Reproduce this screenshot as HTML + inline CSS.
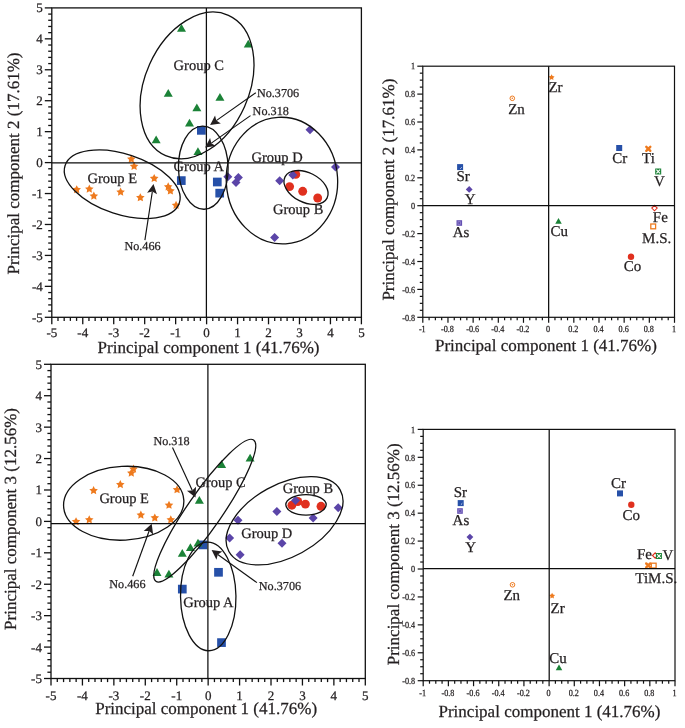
<!DOCTYPE html>
<html><head><meta charset="utf-8"><style>
html,body{margin:0;padding:0;background:#fff;}
svg{display:block;will-change:transform;}
text{font-family:'Liberation Serif', serif;fill:#231f20;text-rendering:geometricPrecision;stroke:#231f20;stroke-width:0.25;}
</style></head><body>
<svg width="685" height="728" viewBox="0 0 685 728">
<rect width="685" height="728" fill="#fff"/>
<rect x="197.00" y="126.00" width="8.7" height="8.7" fill="#2650a8"/>
<rect x="176.95" y="176.25" width="8.7" height="8.7" fill="#2650a8"/>
<rect x="212.95" y="177.65" width="8.7" height="8.7" fill="#2650a8"/>
<rect x="215.35" y="188.80" width="8.7" height="8.7" fill="#2650a8"/>
<polygon points="181.50,24.00 186.00,31.80 177.00,31.80" fill="#1b8237"/>
<polygon points="248.25,39.75 252.75,47.55 243.75,47.55" fill="#1b8237"/>
<polygon points="168.25,89.00 172.75,96.80 163.75,96.80" fill="#1b8237"/>
<polygon points="219.95,93.00 224.45,100.80 215.45,100.80" fill="#1b8237"/>
<polygon points="196.85,103.40 201.35,111.20 192.35,111.20" fill="#1b8237"/>
<polygon points="189.50,118.70 194.00,126.50 185.00,126.50" fill="#1b8237"/>
<polygon points="156.15,135.40 160.65,143.20 151.65,143.20" fill="#1b8237"/>
<polygon points="197.95,147.30 202.45,155.10 193.45,155.10" fill="#1b8237"/>
<polygon points="131.30,154.63 132.62,157.31 135.58,157.74 133.44,159.83 133.95,162.77 131.30,161.38 128.65,162.77 129.16,159.83 127.02,157.74 129.98,157.31" fill="#ee7a1e"/>
<polygon points="134.10,161.83 135.42,164.51 138.38,164.94 136.24,167.03 136.75,169.97 134.10,168.58 131.45,169.97 131.96,167.03 129.82,164.94 132.78,164.51" fill="#ee7a1e"/>
<polygon points="154.20,173.93 155.52,176.61 158.48,177.04 156.34,179.13 156.85,182.07 154.20,180.68 151.55,182.07 152.06,179.13 149.92,177.04 152.88,176.61" fill="#ee7a1e"/>
<polygon points="76.70,185.13 78.02,187.81 80.98,188.24 78.84,190.33 79.35,193.27 76.70,191.88 74.05,193.27 74.56,190.33 72.42,188.24 75.38,187.81" fill="#ee7a1e"/>
<polygon points="89.30,184.53 90.62,187.21 93.58,187.64 91.44,189.73 91.95,192.67 89.30,191.28 86.65,192.67 87.16,189.73 85.02,187.64 87.98,187.21" fill="#ee7a1e"/>
<polygon points="93.85,191.53 95.17,194.21 98.13,194.64 95.99,196.73 96.50,199.67 93.85,198.28 91.20,199.67 91.71,196.73 89.57,194.64 92.53,194.21" fill="#ee7a1e"/>
<polygon points="120.60,187.53 121.92,190.21 124.88,190.64 122.74,192.73 123.25,195.67 120.60,194.28 117.95,195.67 118.46,192.73 116.32,190.64 119.28,190.21" fill="#ee7a1e"/>
<polygon points="140.35,193.13 141.67,195.81 144.63,196.24 142.49,198.33 143.00,201.27 140.35,199.88 137.70,201.27 138.21,198.33 136.07,196.24 139.03,195.81" fill="#ee7a1e"/>
<polygon points="168.20,182.33 169.52,185.01 172.48,185.44 170.34,187.53 170.85,190.47 168.20,189.08 165.55,190.47 166.06,187.53 163.92,185.44 166.88,185.01" fill="#ee7a1e"/>
<polygon points="170.40,186.43 171.72,189.11 174.68,189.54 172.54,191.63 173.05,194.57 170.40,193.18 167.75,194.57 168.26,191.63 166.12,189.54 169.08,189.11" fill="#ee7a1e"/>
<polygon points="176.05,200.83 177.37,203.51 180.33,203.94 178.19,206.03 178.70,208.97 176.05,207.58 173.40,208.97 173.91,206.03 171.77,203.94 174.73,203.51" fill="#ee7a1e"/>
<circle cx="295.80" cy="174.40" r="4.45" fill="#e0301e"/>
<circle cx="289.60" cy="186.60" r="4.45" fill="#e0301e"/>
<circle cx="302.70" cy="191.30" r="4.45" fill="#e0301e"/>
<circle cx="317.70" cy="198.00" r="4.45" fill="#e0301e"/>
<polygon points="227.80,172.20 232.30,176.70 227.80,181.20 223.30,176.70" fill="#5b45a8"/>
<polygon points="238.40,173.10 242.90,177.60 238.40,182.10 233.90,177.60" fill="#5b45a8"/>
<polygon points="236.00,177.90 240.50,182.40 236.00,186.90 231.50,182.40" fill="#5b45a8"/>
<polygon points="279.70,176.20 284.20,180.70 279.70,185.20 275.20,180.70" fill="#5b45a8"/>
<polygon points="292.80,170.40 297.30,174.90 292.80,179.40 288.30,174.90" fill="#5b45a8"/>
<polygon points="310.00,125.30 314.50,129.80 310.00,134.30 305.50,129.80" fill="#5b45a8"/>
<polygon points="335.50,162.50 340.00,167.00 335.50,171.50 331.00,167.00" fill="#5b45a8"/>
<polygon points="274.60,233.00 279.10,237.50 274.60,242.00 270.10,237.50" fill="#5b45a8"/>
<rect x="198.55" y="540.55" width="8.7" height="8.7" fill="#2650a8"/>
<rect x="214.15" y="567.95" width="8.7" height="8.7" fill="#2650a8"/>
<rect x="177.95" y="584.75" width="8.7" height="8.7" fill="#2650a8"/>
<rect x="217.15" y="638.25" width="8.7" height="8.7" fill="#2650a8"/>
<polygon points="250.10,453.70 254.60,461.50 245.60,461.50" fill="#1b8237"/>
<polygon points="221.60,460.10 226.10,467.90 217.10,467.90" fill="#1b8237"/>
<polygon points="199.35,496.00 203.85,503.80 194.85,503.80" fill="#1b8237"/>
<polygon points="198.00,538.70 202.50,546.50 193.50,546.50" fill="#1b8237"/>
<polygon points="190.40,543.30 194.90,551.10 185.90,551.10" fill="#1b8237"/>
<polygon points="182.30,549.00 186.80,556.80 177.80,556.80" fill="#1b8237"/>
<polygon points="157.00,568.10 161.50,575.90 152.50,575.90" fill="#1b8237"/>
<polygon points="168.90,569.70 173.40,577.50 164.40,577.50" fill="#1b8237"/>
<polygon points="133.50,464.53 134.82,467.21 137.78,467.64 135.64,469.73 136.15,472.67 133.50,471.28 130.85,472.67 131.36,469.73 129.22,467.64 132.18,467.21" fill="#ee7a1e"/>
<polygon points="131.30,468.53 132.62,471.21 135.58,471.64 133.44,473.73 133.95,476.67 131.30,475.28 128.65,476.67 129.16,473.73 127.02,471.64 129.98,471.21" fill="#ee7a1e"/>
<polygon points="120.30,480.03 121.62,482.71 124.58,483.14 122.44,485.23 122.95,488.17 120.30,486.78 117.65,488.17 118.16,485.23 116.02,483.14 118.98,482.71" fill="#ee7a1e"/>
<polygon points="93.60,486.08 94.92,488.76 97.88,489.19 95.74,491.28 96.25,494.22 93.60,492.83 90.95,494.22 91.46,491.28 89.32,489.19 92.28,488.76" fill="#ee7a1e"/>
<polygon points="177.05,485.23 178.37,487.91 181.33,488.34 179.19,490.43 179.70,493.37 177.05,491.98 174.40,493.37 174.91,490.43 172.77,488.34 175.73,487.91" fill="#ee7a1e"/>
<polygon points="169.00,500.73 170.32,503.41 173.28,503.84 171.14,505.93 171.65,508.87 169.00,507.48 166.35,508.87 166.86,505.93 164.72,503.84 167.68,503.41" fill="#ee7a1e"/>
<polygon points="140.85,510.53 142.17,513.21 145.13,513.64 142.99,515.73 143.50,518.67 140.85,517.28 138.20,518.67 138.71,515.73 136.57,513.64 139.53,513.21" fill="#ee7a1e"/>
<polygon points="154.80,513.38 156.12,516.06 159.08,516.49 156.94,518.58 157.45,521.52 154.80,520.13 152.15,521.52 152.66,518.58 150.52,516.49 153.48,516.06" fill="#ee7a1e"/>
<polygon points="89.25,515.33 90.57,518.01 93.53,518.44 91.39,520.53 91.90,523.47 89.25,522.08 86.60,523.47 87.11,520.53 84.97,518.44 87.93,518.01" fill="#ee7a1e"/>
<polygon points="76.05,517.13 77.37,519.81 80.33,520.24 78.19,522.33 78.70,525.27 76.05,523.88 73.40,525.27 73.91,522.33 71.77,520.24 74.73,519.81" fill="#ee7a1e"/>
<polygon points="170.80,515.33 172.12,518.01 175.08,518.44 172.94,520.53 173.45,523.47 170.80,522.08 168.15,523.47 168.66,520.53 166.52,518.44 169.48,518.01" fill="#ee7a1e"/>
<circle cx="291.90" cy="505.20" r="4.45" fill="#e0301e"/>
<circle cx="297.80" cy="501.50" r="4.45" fill="#e0301e"/>
<circle cx="305.40" cy="504.10" r="4.45" fill="#e0301e"/>
<circle cx="321.00" cy="506.30" r="4.45" fill="#e0301e"/>
<polygon points="295.50,496.00 300.00,500.50 295.50,505.00 291.00,500.50" fill="#5b45a8"/>
<polygon points="276.90,507.00 281.40,511.50 276.90,516.00 272.40,511.50" fill="#5b45a8"/>
<polygon points="338.20,503.20 342.70,507.70 338.20,512.20 333.70,507.70" fill="#5b45a8"/>
<polygon points="313.10,513.50 317.60,518.00 313.10,522.50 308.60,518.00" fill="#5b45a8"/>
<polygon points="238.00,515.70 242.50,520.20 238.00,524.70 233.50,520.20" fill="#5b45a8"/>
<polygon points="229.60,533.40 234.10,537.90 229.60,542.40 225.10,537.90" fill="#5b45a8"/>
<polygon points="282.00,538.70 286.50,543.20 282.00,547.70 277.50,543.20" fill="#5b45a8"/>
<polygon points="240.10,550.20 244.60,554.70 240.10,559.20 235.60,554.70" fill="#5b45a8"/>
<polygon points="551.60,74.30 552.55,76.10 554.55,76.44 553.13,77.90 553.42,79.91 551.60,79.01 549.78,79.91 550.07,77.90 548.65,76.44 550.65,76.10" fill="#ee7a1e"/>
<circle cx="512.3" cy="98.3" r="2.3" fill="none" stroke="#ee7a1e" stroke-width="1"/>
<circle cx="512.3" cy="98.3" r="0.8" fill="#ee7a1e"/>
<rect x="457.10" y="164.10" width="6.0" height="6.0" fill="#2650a8"/>
<line x1="460.30" y1="168.70" x2="461.70" y2="167.30" stroke="#fff" stroke-width="0.9" opacity="0.85"/>
<polygon points="469.20,186.00 472.60,189.40 469.20,192.80 465.80,189.40" fill="#5b45a8"/>
<rect x="456.50" y="220.20" width="5.6" height="5.6" fill="#6450b2"/>
<rect x="458.00" y="221.70" width="2.6" height="2.6" fill="none" stroke="#9a8ad0" stroke-width="0.7"/>
<polygon points="558.50,217.90 561.75,223.70 555.25,223.70" fill="#1b8237"/>
<rect x="616.20" y="145.00" width="6.0" height="6.0" fill="#2650a8"/>
<g stroke="#ee7a1e" stroke-width="2.4" stroke-linecap="round"><line x1="646.30" y1="146.80" x2="650.30" y2="150.80"/><line x1="646.30" y1="150.80" x2="650.30" y2="146.80"/></g>
<rect x="655.20" y="168.50" width="6.0" height="6.0" fill="#1b8237"/>
<g stroke="#fff" stroke-width="1.1"><line x1="656.40" y1="169.70" x2="660.00" y2="173.30"/><line x1="656.40" y1="173.30" x2="660.00" y2="169.70"/></g>
<polygon points="654.50,205.40 657.20,208.10 654.50,210.80 651.80,208.10" fill="#fff" stroke="#e0301e" stroke-width="1.1"/>
<rect x="650.80" y="224.00" width="4.8" height="4.8" fill="#fff" stroke="#ee7a1e" stroke-width="1.3"/>
<circle cx="631.00" cy="256.70" r="3.2" fill="#e0301e"/>
<rect x="457.70" y="500.10" width="6.0" height="6.0" fill="#2650a8"/>
<line x1="460.90" y1="504.70" x2="462.30" y2="503.30" stroke="#fff" stroke-width="0.9" opacity="0.85"/>
<rect x="457.20" y="508.20" width="5.6" height="5.6" fill="#6450b2"/>
<rect x="458.70" y="509.70" width="2.6" height="2.6" fill="none" stroke="#9a8ad0" stroke-width="0.7"/>
<polygon points="469.90,533.70 473.30,537.10 469.90,540.50 466.50,537.10" fill="#5b45a8"/>
<circle cx="512.5" cy="584.8" r="2.3" fill="none" stroke="#ee7a1e" stroke-width="1"/>
<circle cx="512.5" cy="584.8" r="0.8" fill="#ee7a1e"/>
<polygon points="552.10,592.80 553.05,594.60 555.05,594.94 553.63,596.40 553.92,598.41 552.10,597.51 550.28,598.41 550.57,596.40 549.15,594.94 551.15,594.60" fill="#ee7a1e"/>
<polygon points="559.00,664.50 562.25,670.30 555.75,670.30" fill="#1b8237"/>
<rect x="617.00" y="490.40" width="6.0" height="6.0" fill="#2650a8"/>
<circle cx="631.30" cy="504.70" r="3.2" fill="#e0301e"/>
<polygon points="655.20,552.80 657.90,555.50 655.20,558.20 652.50,555.50" fill="#fff" stroke="#e0301e" stroke-width="1.1"/>
<rect x="655.90" y="553.00" width="6.0" height="6.0" fill="#1b8237"/>
<g stroke="#fff" stroke-width="1.1"><line x1="657.10" y1="554.20" x2="660.70" y2="557.80"/><line x1="657.10" y1="557.80" x2="660.70" y2="554.20"/></g>
<g stroke="#ee7a1e" stroke-width="2.4" stroke-linecap="round"><line x1="646.20" y1="563.40" x2="650.20" y2="567.40"/><line x1="646.20" y1="567.40" x2="650.20" y2="563.40"/></g>
<rect x="651.30" y="563.20" width="4.8" height="4.8" fill="#fff" stroke="#ee7a1e" stroke-width="1.3"/>
<rect x="51.80" y="7.90" width="309.60" height="309.40" fill="none" stroke="#111" stroke-width="1.3" stroke-linejoin="miter"/>
<line x1="44.80" y1="317.30" x2="51.80" y2="317.30" stroke="#111" stroke-width="1.3"/>
<text x="42.80" y="321.72" font-size="13" text-anchor="end" >-5</text>
<line x1="48.20" y1="311.11" x2="51.80" y2="311.11" stroke="#111" stroke-width="1.3"/>
<line x1="48.20" y1="304.92" x2="51.80" y2="304.92" stroke="#111" stroke-width="1.3"/>
<line x1="48.20" y1="298.74" x2="51.80" y2="298.74" stroke="#111" stroke-width="1.3"/>
<line x1="48.20" y1="292.55" x2="51.80" y2="292.55" stroke="#111" stroke-width="1.3"/>
<line x1="44.80" y1="286.36" x2="51.80" y2="286.36" stroke="#111" stroke-width="1.3"/>
<text x="42.80" y="290.78" font-size="13" text-anchor="end" >-4</text>
<line x1="48.20" y1="280.17" x2="51.80" y2="280.17" stroke="#111" stroke-width="1.3"/>
<line x1="48.20" y1="273.98" x2="51.80" y2="273.98" stroke="#111" stroke-width="1.3"/>
<line x1="48.20" y1="267.80" x2="51.80" y2="267.80" stroke="#111" stroke-width="1.3"/>
<line x1="48.20" y1="261.61" x2="51.80" y2="261.61" stroke="#111" stroke-width="1.3"/>
<line x1="44.80" y1="255.42" x2="51.80" y2="255.42" stroke="#111" stroke-width="1.3"/>
<text x="42.80" y="259.84" font-size="13" text-anchor="end" >-3</text>
<line x1="48.20" y1="249.23" x2="51.80" y2="249.23" stroke="#111" stroke-width="1.3"/>
<line x1="48.20" y1="243.04" x2="51.80" y2="243.04" stroke="#111" stroke-width="1.3"/>
<line x1="48.20" y1="236.86" x2="51.80" y2="236.86" stroke="#111" stroke-width="1.3"/>
<line x1="48.20" y1="230.67" x2="51.80" y2="230.67" stroke="#111" stroke-width="1.3"/>
<line x1="44.80" y1="224.48" x2="51.80" y2="224.48" stroke="#111" stroke-width="1.3"/>
<text x="42.80" y="228.90" font-size="13" text-anchor="end" >-2</text>
<line x1="48.20" y1="218.29" x2="51.80" y2="218.29" stroke="#111" stroke-width="1.3"/>
<line x1="48.20" y1="212.10" x2="51.80" y2="212.10" stroke="#111" stroke-width="1.3"/>
<line x1="48.20" y1="205.92" x2="51.80" y2="205.92" stroke="#111" stroke-width="1.3"/>
<line x1="48.20" y1="199.73" x2="51.80" y2="199.73" stroke="#111" stroke-width="1.3"/>
<line x1="44.80" y1="193.54" x2="51.80" y2="193.54" stroke="#111" stroke-width="1.3"/>
<text x="42.80" y="197.96" font-size="13" text-anchor="end" >-1</text>
<line x1="48.20" y1="187.35" x2="51.80" y2="187.35" stroke="#111" stroke-width="1.3"/>
<line x1="48.20" y1="181.16" x2="51.80" y2="181.16" stroke="#111" stroke-width="1.3"/>
<line x1="48.20" y1="174.98" x2="51.80" y2="174.98" stroke="#111" stroke-width="1.3"/>
<line x1="48.20" y1="168.79" x2="51.80" y2="168.79" stroke="#111" stroke-width="1.3"/>
<line x1="44.80" y1="162.60" x2="51.80" y2="162.60" stroke="#111" stroke-width="1.3"/>
<text x="42.80" y="167.02" font-size="13" text-anchor="end" >0</text>
<line x1="48.20" y1="156.41" x2="51.80" y2="156.41" stroke="#111" stroke-width="1.3"/>
<line x1="48.20" y1="150.22" x2="51.80" y2="150.22" stroke="#111" stroke-width="1.3"/>
<line x1="48.20" y1="144.04" x2="51.80" y2="144.04" stroke="#111" stroke-width="1.3"/>
<line x1="48.20" y1="137.85" x2="51.80" y2="137.85" stroke="#111" stroke-width="1.3"/>
<line x1="44.80" y1="131.66" x2="51.80" y2="131.66" stroke="#111" stroke-width="1.3"/>
<text x="42.80" y="136.08" font-size="13" text-anchor="end" >1</text>
<line x1="48.20" y1="125.47" x2="51.80" y2="125.47" stroke="#111" stroke-width="1.3"/>
<line x1="48.20" y1="119.28" x2="51.80" y2="119.28" stroke="#111" stroke-width="1.3"/>
<line x1="48.20" y1="113.10" x2="51.80" y2="113.10" stroke="#111" stroke-width="1.3"/>
<line x1="48.20" y1="106.91" x2="51.80" y2="106.91" stroke="#111" stroke-width="1.3"/>
<line x1="44.80" y1="100.72" x2="51.80" y2="100.72" stroke="#111" stroke-width="1.3"/>
<text x="42.80" y="105.14" font-size="13" text-anchor="end" >2</text>
<line x1="48.20" y1="94.53" x2="51.80" y2="94.53" stroke="#111" stroke-width="1.3"/>
<line x1="48.20" y1="88.34" x2="51.80" y2="88.34" stroke="#111" stroke-width="1.3"/>
<line x1="48.20" y1="82.16" x2="51.80" y2="82.16" stroke="#111" stroke-width="1.3"/>
<line x1="48.20" y1="75.97" x2="51.80" y2="75.97" stroke="#111" stroke-width="1.3"/>
<line x1="44.80" y1="69.78" x2="51.80" y2="69.78" stroke="#111" stroke-width="1.3"/>
<text x="42.80" y="74.20" font-size="13" text-anchor="end" >3</text>
<line x1="48.20" y1="63.59" x2="51.80" y2="63.59" stroke="#111" stroke-width="1.3"/>
<line x1="48.20" y1="57.40" x2="51.80" y2="57.40" stroke="#111" stroke-width="1.3"/>
<line x1="48.20" y1="51.22" x2="51.80" y2="51.22" stroke="#111" stroke-width="1.3"/>
<line x1="48.20" y1="45.03" x2="51.80" y2="45.03" stroke="#111" stroke-width="1.3"/>
<line x1="44.80" y1="38.84" x2="51.80" y2="38.84" stroke="#111" stroke-width="1.3"/>
<text x="42.80" y="43.26" font-size="13" text-anchor="end" >4</text>
<line x1="48.20" y1="32.65" x2="51.80" y2="32.65" stroke="#111" stroke-width="1.3"/>
<line x1="48.20" y1="26.46" x2="51.80" y2="26.46" stroke="#111" stroke-width="1.3"/>
<line x1="48.20" y1="20.28" x2="51.80" y2="20.28" stroke="#111" stroke-width="1.3"/>
<line x1="48.20" y1="14.09" x2="51.80" y2="14.09" stroke="#111" stroke-width="1.3"/>
<line x1="44.80" y1="7.90" x2="51.80" y2="7.90" stroke="#111" stroke-width="1.3"/>
<text x="42.80" y="12.32" font-size="13" text-anchor="end" >5</text>
<line x1="51.80" y1="317.30" x2="51.80" y2="324.30" stroke="#111" stroke-width="1.3"/>
<text x="51.80" y="336.90" font-size="13" text-anchor="middle" >-5</text>
<line x1="57.99" y1="317.30" x2="57.99" y2="320.90" stroke="#111" stroke-width="1.3"/>
<line x1="64.18" y1="317.30" x2="64.18" y2="320.90" stroke="#111" stroke-width="1.3"/>
<line x1="70.38" y1="317.30" x2="70.38" y2="320.90" stroke="#111" stroke-width="1.3"/>
<line x1="76.57" y1="317.30" x2="76.57" y2="320.90" stroke="#111" stroke-width="1.3"/>
<line x1="82.76" y1="317.30" x2="82.76" y2="324.30" stroke="#111" stroke-width="1.3"/>
<text x="82.76" y="336.90" font-size="13" text-anchor="middle" >-4</text>
<line x1="88.95" y1="317.30" x2="88.95" y2="320.90" stroke="#111" stroke-width="1.3"/>
<line x1="95.14" y1="317.30" x2="95.14" y2="320.90" stroke="#111" stroke-width="1.3"/>
<line x1="101.34" y1="317.30" x2="101.34" y2="320.90" stroke="#111" stroke-width="1.3"/>
<line x1="107.53" y1="317.30" x2="107.53" y2="320.90" stroke="#111" stroke-width="1.3"/>
<line x1="113.72" y1="317.30" x2="113.72" y2="324.30" stroke="#111" stroke-width="1.3"/>
<text x="113.72" y="336.90" font-size="13" text-anchor="middle" >-3</text>
<line x1="119.91" y1="317.30" x2="119.91" y2="320.90" stroke="#111" stroke-width="1.3"/>
<line x1="126.10" y1="317.30" x2="126.10" y2="320.90" stroke="#111" stroke-width="1.3"/>
<line x1="132.30" y1="317.30" x2="132.30" y2="320.90" stroke="#111" stroke-width="1.3"/>
<line x1="138.49" y1="317.30" x2="138.49" y2="320.90" stroke="#111" stroke-width="1.3"/>
<line x1="144.68" y1="317.30" x2="144.68" y2="324.30" stroke="#111" stroke-width="1.3"/>
<text x="144.68" y="336.90" font-size="13" text-anchor="middle" >-2</text>
<line x1="150.87" y1="317.30" x2="150.87" y2="320.90" stroke="#111" stroke-width="1.3"/>
<line x1="157.06" y1="317.30" x2="157.06" y2="320.90" stroke="#111" stroke-width="1.3"/>
<line x1="163.26" y1="317.30" x2="163.26" y2="320.90" stroke="#111" stroke-width="1.3"/>
<line x1="169.45" y1="317.30" x2="169.45" y2="320.90" stroke="#111" stroke-width="1.3"/>
<line x1="175.64" y1="317.30" x2="175.64" y2="324.30" stroke="#111" stroke-width="1.3"/>
<text x="175.64" y="336.90" font-size="13" text-anchor="middle" >-1</text>
<line x1="181.83" y1="317.30" x2="181.83" y2="320.90" stroke="#111" stroke-width="1.3"/>
<line x1="188.02" y1="317.30" x2="188.02" y2="320.90" stroke="#111" stroke-width="1.3"/>
<line x1="194.22" y1="317.30" x2="194.22" y2="320.90" stroke="#111" stroke-width="1.3"/>
<line x1="200.41" y1="317.30" x2="200.41" y2="320.90" stroke="#111" stroke-width="1.3"/>
<line x1="206.60" y1="317.30" x2="206.60" y2="324.30" stroke="#111" stroke-width="1.3"/>
<text x="206.60" y="336.90" font-size="13" text-anchor="middle" >0</text>
<line x1="212.79" y1="317.30" x2="212.79" y2="320.90" stroke="#111" stroke-width="1.3"/>
<line x1="218.98" y1="317.30" x2="218.98" y2="320.90" stroke="#111" stroke-width="1.3"/>
<line x1="225.18" y1="317.30" x2="225.18" y2="320.90" stroke="#111" stroke-width="1.3"/>
<line x1="231.37" y1="317.30" x2="231.37" y2="320.90" stroke="#111" stroke-width="1.3"/>
<line x1="237.56" y1="317.30" x2="237.56" y2="324.30" stroke="#111" stroke-width="1.3"/>
<text x="237.56" y="336.90" font-size="13" text-anchor="middle" >1</text>
<line x1="243.75" y1="317.30" x2="243.75" y2="320.90" stroke="#111" stroke-width="1.3"/>
<line x1="249.94" y1="317.30" x2="249.94" y2="320.90" stroke="#111" stroke-width="1.3"/>
<line x1="256.14" y1="317.30" x2="256.14" y2="320.90" stroke="#111" stroke-width="1.3"/>
<line x1="262.33" y1="317.30" x2="262.33" y2="320.90" stroke="#111" stroke-width="1.3"/>
<line x1="268.52" y1="317.30" x2="268.52" y2="324.30" stroke="#111" stroke-width="1.3"/>
<text x="268.52" y="336.90" font-size="13" text-anchor="middle" >2</text>
<line x1="274.71" y1="317.30" x2="274.71" y2="320.90" stroke="#111" stroke-width="1.3"/>
<line x1="280.90" y1="317.30" x2="280.90" y2="320.90" stroke="#111" stroke-width="1.3"/>
<line x1="287.10" y1="317.30" x2="287.10" y2="320.90" stroke="#111" stroke-width="1.3"/>
<line x1="293.29" y1="317.30" x2="293.29" y2="320.90" stroke="#111" stroke-width="1.3"/>
<line x1="299.48" y1="317.30" x2="299.48" y2="324.30" stroke="#111" stroke-width="1.3"/>
<text x="299.48" y="336.90" font-size="13" text-anchor="middle" >3</text>
<line x1="305.67" y1="317.30" x2="305.67" y2="320.90" stroke="#111" stroke-width="1.3"/>
<line x1="311.86" y1="317.30" x2="311.86" y2="320.90" stroke="#111" stroke-width="1.3"/>
<line x1="318.06" y1="317.30" x2="318.06" y2="320.90" stroke="#111" stroke-width="1.3"/>
<line x1="324.25" y1="317.30" x2="324.25" y2="320.90" stroke="#111" stroke-width="1.3"/>
<line x1="330.44" y1="317.30" x2="330.44" y2="324.30" stroke="#111" stroke-width="1.3"/>
<text x="330.44" y="336.90" font-size="13" text-anchor="middle" >4</text>
<line x1="336.63" y1="317.30" x2="336.63" y2="320.90" stroke="#111" stroke-width="1.3"/>
<line x1="342.82" y1="317.30" x2="342.82" y2="320.90" stroke="#111" stroke-width="1.3"/>
<line x1="349.02" y1="317.30" x2="349.02" y2="320.90" stroke="#111" stroke-width="1.3"/>
<line x1="355.21" y1="317.30" x2="355.21" y2="320.90" stroke="#111" stroke-width="1.3"/>
<line x1="361.40" y1="317.30" x2="361.40" y2="324.30" stroke="#111" stroke-width="1.3"/>
<text x="361.40" y="336.90" font-size="13" text-anchor="middle" >5</text>
<line x1="51.80" y1="162.75" x2="361.40" y2="162.75" stroke="#0d0d0d" stroke-width="1.25"/>
<line x1="206.40" y1="7.90" x2="206.40" y2="317.30" stroke="#0d0d0d" stroke-width="1.25"/>
<rect x="422.80" y="66.20" width="251.70" height="251.10" fill="none" stroke="#111" stroke-width="1.2" stroke-linejoin="miter"/>
<line x1="417.30" y1="317.30" x2="422.80" y2="317.30" stroke="#111" stroke-width="1.2"/>
<text x="0" y="0" font-size="9.4" text-anchor="end" transform="translate(415.10,320.50) scale(0.87,1)">-0.8</text>
<line x1="419.80" y1="310.32" x2="422.80" y2="310.32" stroke="#111" stroke-width="1.2"/>
<line x1="419.80" y1="303.35" x2="422.80" y2="303.35" stroke="#111" stroke-width="1.2"/>
<line x1="419.80" y1="296.38" x2="422.80" y2="296.38" stroke="#111" stroke-width="1.2"/>
<line x1="417.30" y1="289.40" x2="422.80" y2="289.40" stroke="#111" stroke-width="1.2"/>
<text x="0" y="0" font-size="9.4" text-anchor="end" transform="translate(415.10,292.60) scale(0.87,1)">-0.6</text>
<line x1="419.80" y1="282.43" x2="422.80" y2="282.43" stroke="#111" stroke-width="1.2"/>
<line x1="419.80" y1="275.45" x2="422.80" y2="275.45" stroke="#111" stroke-width="1.2"/>
<line x1="419.80" y1="268.48" x2="422.80" y2="268.48" stroke="#111" stroke-width="1.2"/>
<line x1="417.30" y1="261.50" x2="422.80" y2="261.50" stroke="#111" stroke-width="1.2"/>
<text x="0" y="0" font-size="9.4" text-anchor="end" transform="translate(415.10,264.70) scale(0.87,1)">-0.4</text>
<line x1="419.80" y1="254.53" x2="422.80" y2="254.53" stroke="#111" stroke-width="1.2"/>
<line x1="419.80" y1="247.55" x2="422.80" y2="247.55" stroke="#111" stroke-width="1.2"/>
<line x1="419.80" y1="240.57" x2="422.80" y2="240.57" stroke="#111" stroke-width="1.2"/>
<line x1="417.30" y1="233.60" x2="422.80" y2="233.60" stroke="#111" stroke-width="1.2"/>
<text x="0" y="0" font-size="9.4" text-anchor="end" transform="translate(415.10,236.80) scale(0.87,1)">-0.2</text>
<line x1="419.80" y1="226.62" x2="422.80" y2="226.62" stroke="#111" stroke-width="1.2"/>
<line x1="419.80" y1="219.65" x2="422.80" y2="219.65" stroke="#111" stroke-width="1.2"/>
<line x1="419.80" y1="212.68" x2="422.80" y2="212.68" stroke="#111" stroke-width="1.2"/>
<line x1="417.30" y1="205.70" x2="422.80" y2="205.70" stroke="#111" stroke-width="1.2"/>
<text x="0" y="0" font-size="9.4" text-anchor="end" transform="translate(415.10,208.90) scale(0.87,1)">0</text>
<line x1="419.80" y1="198.72" x2="422.80" y2="198.72" stroke="#111" stroke-width="1.2"/>
<line x1="419.80" y1="191.75" x2="422.80" y2="191.75" stroke="#111" stroke-width="1.2"/>
<line x1="419.80" y1="184.78" x2="422.80" y2="184.78" stroke="#111" stroke-width="1.2"/>
<line x1="417.30" y1="177.80" x2="422.80" y2="177.80" stroke="#111" stroke-width="1.2"/>
<text x="0" y="0" font-size="9.4" text-anchor="end" transform="translate(415.10,181.00) scale(0.87,1)">0.2</text>
<line x1="419.80" y1="170.82" x2="422.80" y2="170.82" stroke="#111" stroke-width="1.2"/>
<line x1="419.80" y1="163.85" x2="422.80" y2="163.85" stroke="#111" stroke-width="1.2"/>
<line x1="419.80" y1="156.87" x2="422.80" y2="156.87" stroke="#111" stroke-width="1.2"/>
<line x1="417.30" y1="149.90" x2="422.80" y2="149.90" stroke="#111" stroke-width="1.2"/>
<text x="0" y="0" font-size="9.4" text-anchor="end" transform="translate(415.10,153.10) scale(0.87,1)">0.4</text>
<line x1="419.80" y1="142.93" x2="422.80" y2="142.93" stroke="#111" stroke-width="1.2"/>
<line x1="419.80" y1="135.95" x2="422.80" y2="135.95" stroke="#111" stroke-width="1.2"/>
<line x1="419.80" y1="128.97" x2="422.80" y2="128.97" stroke="#111" stroke-width="1.2"/>
<line x1="417.30" y1="122.00" x2="422.80" y2="122.00" stroke="#111" stroke-width="1.2"/>
<text x="0" y="0" font-size="9.4" text-anchor="end" transform="translate(415.10,125.20) scale(0.87,1)">0.6</text>
<line x1="419.80" y1="115.02" x2="422.80" y2="115.02" stroke="#111" stroke-width="1.2"/>
<line x1="419.80" y1="108.05" x2="422.80" y2="108.05" stroke="#111" stroke-width="1.2"/>
<line x1="419.80" y1="101.07" x2="422.80" y2="101.07" stroke="#111" stroke-width="1.2"/>
<line x1="417.30" y1="94.10" x2="422.80" y2="94.10" stroke="#111" stroke-width="1.2"/>
<text x="0" y="0" font-size="9.4" text-anchor="end" transform="translate(415.10,97.30) scale(0.87,1)">0.8</text>
<line x1="419.80" y1="87.12" x2="422.80" y2="87.12" stroke="#111" stroke-width="1.2"/>
<line x1="419.80" y1="80.15" x2="422.80" y2="80.15" stroke="#111" stroke-width="1.2"/>
<line x1="419.80" y1="73.17" x2="422.80" y2="73.17" stroke="#111" stroke-width="1.2"/>
<line x1="417.30" y1="66.20" x2="422.80" y2="66.20" stroke="#111" stroke-width="1.2"/>
<text x="0" y="0" font-size="9.4" text-anchor="end" transform="translate(415.10,69.40) scale(0.87,1)">1</text>
<line x1="422.80" y1="317.30" x2="422.80" y2="322.80" stroke="#111" stroke-width="1.2"/>
<text x="0" y="0" font-size="9.4" text-anchor="middle" transform="translate(422.30,332.40) scale(0.87,1)">-1</text>
<line x1="429.09" y1="317.30" x2="429.09" y2="320.30" stroke="#111" stroke-width="1.2"/>
<line x1="435.38" y1="317.30" x2="435.38" y2="320.30" stroke="#111" stroke-width="1.2"/>
<line x1="441.68" y1="317.30" x2="441.68" y2="320.30" stroke="#111" stroke-width="1.2"/>
<line x1="447.97" y1="317.30" x2="447.97" y2="322.80" stroke="#111" stroke-width="1.2"/>
<text x="0" y="0" font-size="9.4" text-anchor="middle" transform="translate(447.47,332.40) scale(0.87,1)">-0.8</text>
<line x1="454.26" y1="317.30" x2="454.26" y2="320.30" stroke="#111" stroke-width="1.2"/>
<line x1="460.56" y1="317.30" x2="460.56" y2="320.30" stroke="#111" stroke-width="1.2"/>
<line x1="466.85" y1="317.30" x2="466.85" y2="320.30" stroke="#111" stroke-width="1.2"/>
<line x1="473.14" y1="317.30" x2="473.14" y2="322.80" stroke="#111" stroke-width="1.2"/>
<text x="0" y="0" font-size="9.4" text-anchor="middle" transform="translate(472.64,332.40) scale(0.87,1)">-0.6</text>
<line x1="479.43" y1="317.30" x2="479.43" y2="320.30" stroke="#111" stroke-width="1.2"/>
<line x1="485.73" y1="317.30" x2="485.73" y2="320.30" stroke="#111" stroke-width="1.2"/>
<line x1="492.02" y1="317.30" x2="492.02" y2="320.30" stroke="#111" stroke-width="1.2"/>
<line x1="498.31" y1="317.30" x2="498.31" y2="322.80" stroke="#111" stroke-width="1.2"/>
<text x="0" y="0" font-size="9.4" text-anchor="middle" transform="translate(497.81,332.40) scale(0.87,1)">-0.4</text>
<line x1="504.60" y1="317.30" x2="504.60" y2="320.30" stroke="#111" stroke-width="1.2"/>
<line x1="510.89" y1="317.30" x2="510.89" y2="320.30" stroke="#111" stroke-width="1.2"/>
<line x1="517.19" y1="317.30" x2="517.19" y2="320.30" stroke="#111" stroke-width="1.2"/>
<line x1="523.48" y1="317.30" x2="523.48" y2="322.80" stroke="#111" stroke-width="1.2"/>
<text x="0" y="0" font-size="9.4" text-anchor="middle" transform="translate(522.98,332.40) scale(0.87,1)">-0.2</text>
<line x1="529.77" y1="317.30" x2="529.77" y2="320.30" stroke="#111" stroke-width="1.2"/>
<line x1="536.07" y1="317.30" x2="536.07" y2="320.30" stroke="#111" stroke-width="1.2"/>
<line x1="542.36" y1="317.30" x2="542.36" y2="320.30" stroke="#111" stroke-width="1.2"/>
<line x1="548.65" y1="317.30" x2="548.65" y2="322.80" stroke="#111" stroke-width="1.2"/>
<text x="0" y="0" font-size="9.4" text-anchor="middle" transform="translate(548.15,332.40) scale(0.87,1)">0</text>
<line x1="554.94" y1="317.30" x2="554.94" y2="320.30" stroke="#111" stroke-width="1.2"/>
<line x1="561.24" y1="317.30" x2="561.24" y2="320.30" stroke="#111" stroke-width="1.2"/>
<line x1="567.53" y1="317.30" x2="567.53" y2="320.30" stroke="#111" stroke-width="1.2"/>
<line x1="573.82" y1="317.30" x2="573.82" y2="322.80" stroke="#111" stroke-width="1.2"/>
<text x="0" y="0" font-size="9.4" text-anchor="middle" transform="translate(573.32,332.40) scale(0.87,1)">0.2</text>
<line x1="580.11" y1="317.30" x2="580.11" y2="320.30" stroke="#111" stroke-width="1.2"/>
<line x1="586.40" y1="317.30" x2="586.40" y2="320.30" stroke="#111" stroke-width="1.2"/>
<line x1="592.70" y1="317.30" x2="592.70" y2="320.30" stroke="#111" stroke-width="1.2"/>
<line x1="598.99" y1="317.30" x2="598.99" y2="322.80" stroke="#111" stroke-width="1.2"/>
<text x="0" y="0" font-size="9.4" text-anchor="middle" transform="translate(598.49,332.40) scale(0.87,1)">0.4</text>
<line x1="605.28" y1="317.30" x2="605.28" y2="320.30" stroke="#111" stroke-width="1.2"/>
<line x1="611.58" y1="317.30" x2="611.58" y2="320.30" stroke="#111" stroke-width="1.2"/>
<line x1="617.87" y1="317.30" x2="617.87" y2="320.30" stroke="#111" stroke-width="1.2"/>
<line x1="624.16" y1="317.30" x2="624.16" y2="322.80" stroke="#111" stroke-width="1.2"/>
<text x="0" y="0" font-size="9.4" text-anchor="middle" transform="translate(623.66,332.40) scale(0.87,1)">0.6</text>
<line x1="630.45" y1="317.30" x2="630.45" y2="320.30" stroke="#111" stroke-width="1.2"/>
<line x1="636.75" y1="317.30" x2="636.75" y2="320.30" stroke="#111" stroke-width="1.2"/>
<line x1="643.04" y1="317.30" x2="643.04" y2="320.30" stroke="#111" stroke-width="1.2"/>
<line x1="649.33" y1="317.30" x2="649.33" y2="322.80" stroke="#111" stroke-width="1.2"/>
<text x="0" y="0" font-size="9.4" text-anchor="middle" transform="translate(648.83,332.40) scale(0.87,1)">0.8</text>
<line x1="655.62" y1="317.30" x2="655.62" y2="320.30" stroke="#111" stroke-width="1.2"/>
<line x1="661.91" y1="317.30" x2="661.91" y2="320.30" stroke="#111" stroke-width="1.2"/>
<line x1="668.21" y1="317.30" x2="668.21" y2="320.30" stroke="#111" stroke-width="1.2"/>
<line x1="674.50" y1="317.30" x2="674.50" y2="322.80" stroke="#111" stroke-width="1.2"/>
<text x="0" y="0" font-size="9.4" text-anchor="middle" transform="translate(674.00,332.40) scale(0.87,1)">1</text>
<line x1="422.80" y1="205.60" x2="674.50" y2="205.60" stroke="#0d0d0d" stroke-width="1.25"/>
<line x1="548.65" y1="66.20" x2="548.65" y2="317.30" stroke="#0d0d0d" stroke-width="1.25"/>
<rect x="51.00" y="364.30" width="314.30" height="314.20" fill="none" stroke="#111" stroke-width="1.3" stroke-linejoin="miter"/>
<line x1="44.00" y1="678.50" x2="51.00" y2="678.50" stroke="#111" stroke-width="1.3"/>
<text x="41.90" y="682.92" font-size="13" text-anchor="end" >-5</text>
<line x1="47.40" y1="672.22" x2="51.00" y2="672.22" stroke="#111" stroke-width="1.3"/>
<line x1="47.40" y1="665.93" x2="51.00" y2="665.93" stroke="#111" stroke-width="1.3"/>
<line x1="47.40" y1="659.65" x2="51.00" y2="659.65" stroke="#111" stroke-width="1.3"/>
<line x1="47.40" y1="653.36" x2="51.00" y2="653.36" stroke="#111" stroke-width="1.3"/>
<line x1="44.00" y1="647.08" x2="51.00" y2="647.08" stroke="#111" stroke-width="1.3"/>
<text x="41.90" y="651.50" font-size="13" text-anchor="end" >-4</text>
<line x1="47.40" y1="640.80" x2="51.00" y2="640.80" stroke="#111" stroke-width="1.3"/>
<line x1="47.40" y1="634.51" x2="51.00" y2="634.51" stroke="#111" stroke-width="1.3"/>
<line x1="47.40" y1="628.23" x2="51.00" y2="628.23" stroke="#111" stroke-width="1.3"/>
<line x1="47.40" y1="621.94" x2="51.00" y2="621.94" stroke="#111" stroke-width="1.3"/>
<line x1="44.00" y1="615.66" x2="51.00" y2="615.66" stroke="#111" stroke-width="1.3"/>
<text x="41.90" y="620.08" font-size="13" text-anchor="end" >-3</text>
<line x1="47.40" y1="609.38" x2="51.00" y2="609.38" stroke="#111" stroke-width="1.3"/>
<line x1="47.40" y1="603.09" x2="51.00" y2="603.09" stroke="#111" stroke-width="1.3"/>
<line x1="47.40" y1="596.81" x2="51.00" y2="596.81" stroke="#111" stroke-width="1.3"/>
<line x1="47.40" y1="590.52" x2="51.00" y2="590.52" stroke="#111" stroke-width="1.3"/>
<line x1="44.00" y1="584.24" x2="51.00" y2="584.24" stroke="#111" stroke-width="1.3"/>
<text x="41.90" y="588.66" font-size="13" text-anchor="end" >-2</text>
<line x1="47.40" y1="577.96" x2="51.00" y2="577.96" stroke="#111" stroke-width="1.3"/>
<line x1="47.40" y1="571.67" x2="51.00" y2="571.67" stroke="#111" stroke-width="1.3"/>
<line x1="47.40" y1="565.39" x2="51.00" y2="565.39" stroke="#111" stroke-width="1.3"/>
<line x1="47.40" y1="559.10" x2="51.00" y2="559.10" stroke="#111" stroke-width="1.3"/>
<line x1="44.00" y1="552.82" x2="51.00" y2="552.82" stroke="#111" stroke-width="1.3"/>
<text x="41.90" y="557.24" font-size="13" text-anchor="end" >-1</text>
<line x1="47.40" y1="546.54" x2="51.00" y2="546.54" stroke="#111" stroke-width="1.3"/>
<line x1="47.40" y1="540.25" x2="51.00" y2="540.25" stroke="#111" stroke-width="1.3"/>
<line x1="47.40" y1="533.97" x2="51.00" y2="533.97" stroke="#111" stroke-width="1.3"/>
<line x1="47.40" y1="527.68" x2="51.00" y2="527.68" stroke="#111" stroke-width="1.3"/>
<line x1="44.00" y1="521.40" x2="51.00" y2="521.40" stroke="#111" stroke-width="1.3"/>
<text x="41.90" y="525.82" font-size="13" text-anchor="end" >0</text>
<line x1="47.40" y1="515.12" x2="51.00" y2="515.12" stroke="#111" stroke-width="1.3"/>
<line x1="47.40" y1="508.83" x2="51.00" y2="508.83" stroke="#111" stroke-width="1.3"/>
<line x1="47.40" y1="502.55" x2="51.00" y2="502.55" stroke="#111" stroke-width="1.3"/>
<line x1="47.40" y1="496.26" x2="51.00" y2="496.26" stroke="#111" stroke-width="1.3"/>
<line x1="44.00" y1="489.98" x2="51.00" y2="489.98" stroke="#111" stroke-width="1.3"/>
<text x="41.90" y="494.40" font-size="13" text-anchor="end" >1</text>
<line x1="47.40" y1="483.70" x2="51.00" y2="483.70" stroke="#111" stroke-width="1.3"/>
<line x1="47.40" y1="477.41" x2="51.00" y2="477.41" stroke="#111" stroke-width="1.3"/>
<line x1="47.40" y1="471.13" x2="51.00" y2="471.13" stroke="#111" stroke-width="1.3"/>
<line x1="47.40" y1="464.84" x2="51.00" y2="464.84" stroke="#111" stroke-width="1.3"/>
<line x1="44.00" y1="458.56" x2="51.00" y2="458.56" stroke="#111" stroke-width="1.3"/>
<text x="41.90" y="462.98" font-size="13" text-anchor="end" >2</text>
<line x1="47.40" y1="452.28" x2="51.00" y2="452.28" stroke="#111" stroke-width="1.3"/>
<line x1="47.40" y1="445.99" x2="51.00" y2="445.99" stroke="#111" stroke-width="1.3"/>
<line x1="47.40" y1="439.71" x2="51.00" y2="439.71" stroke="#111" stroke-width="1.3"/>
<line x1="47.40" y1="433.42" x2="51.00" y2="433.42" stroke="#111" stroke-width="1.3"/>
<line x1="44.00" y1="427.14" x2="51.00" y2="427.14" stroke="#111" stroke-width="1.3"/>
<text x="41.90" y="431.56" font-size="13" text-anchor="end" >3</text>
<line x1="47.40" y1="420.86" x2="51.00" y2="420.86" stroke="#111" stroke-width="1.3"/>
<line x1="47.40" y1="414.57" x2="51.00" y2="414.57" stroke="#111" stroke-width="1.3"/>
<line x1="47.40" y1="408.29" x2="51.00" y2="408.29" stroke="#111" stroke-width="1.3"/>
<line x1="47.40" y1="402.00" x2="51.00" y2="402.00" stroke="#111" stroke-width="1.3"/>
<line x1="44.00" y1="395.72" x2="51.00" y2="395.72" stroke="#111" stroke-width="1.3"/>
<text x="41.90" y="400.14" font-size="13" text-anchor="end" >4</text>
<line x1="47.40" y1="389.44" x2="51.00" y2="389.44" stroke="#111" stroke-width="1.3"/>
<line x1="47.40" y1="383.15" x2="51.00" y2="383.15" stroke="#111" stroke-width="1.3"/>
<line x1="47.40" y1="376.87" x2="51.00" y2="376.87" stroke="#111" stroke-width="1.3"/>
<line x1="47.40" y1="370.58" x2="51.00" y2="370.58" stroke="#111" stroke-width="1.3"/>
<line x1="44.00" y1="364.30" x2="51.00" y2="364.30" stroke="#111" stroke-width="1.3"/>
<text x="41.90" y="368.72" font-size="13" text-anchor="end" >5</text>
<line x1="51.00" y1="678.50" x2="51.00" y2="685.50" stroke="#111" stroke-width="1.3"/>
<text x="51.00" y="699.60" font-size="13" text-anchor="middle" >-5</text>
<line x1="57.29" y1="678.50" x2="57.29" y2="682.10" stroke="#111" stroke-width="1.3"/>
<line x1="63.57" y1="678.50" x2="63.57" y2="682.10" stroke="#111" stroke-width="1.3"/>
<line x1="69.86" y1="678.50" x2="69.86" y2="682.10" stroke="#111" stroke-width="1.3"/>
<line x1="76.14" y1="678.50" x2="76.14" y2="682.10" stroke="#111" stroke-width="1.3"/>
<line x1="82.43" y1="678.50" x2="82.43" y2="685.50" stroke="#111" stroke-width="1.3"/>
<text x="82.43" y="699.60" font-size="13" text-anchor="middle" >-4</text>
<line x1="88.72" y1="678.50" x2="88.72" y2="682.10" stroke="#111" stroke-width="1.3"/>
<line x1="95.00" y1="678.50" x2="95.00" y2="682.10" stroke="#111" stroke-width="1.3"/>
<line x1="101.29" y1="678.50" x2="101.29" y2="682.10" stroke="#111" stroke-width="1.3"/>
<line x1="107.57" y1="678.50" x2="107.57" y2="682.10" stroke="#111" stroke-width="1.3"/>
<line x1="113.86" y1="678.50" x2="113.86" y2="685.50" stroke="#111" stroke-width="1.3"/>
<text x="113.86" y="699.60" font-size="13" text-anchor="middle" >-3</text>
<line x1="120.15" y1="678.50" x2="120.15" y2="682.10" stroke="#111" stroke-width="1.3"/>
<line x1="126.43" y1="678.50" x2="126.43" y2="682.10" stroke="#111" stroke-width="1.3"/>
<line x1="132.72" y1="678.50" x2="132.72" y2="682.10" stroke="#111" stroke-width="1.3"/>
<line x1="139.00" y1="678.50" x2="139.00" y2="682.10" stroke="#111" stroke-width="1.3"/>
<line x1="145.29" y1="678.50" x2="145.29" y2="685.50" stroke="#111" stroke-width="1.3"/>
<text x="145.29" y="699.60" font-size="13" text-anchor="middle" >-2</text>
<line x1="151.58" y1="678.50" x2="151.58" y2="682.10" stroke="#111" stroke-width="1.3"/>
<line x1="157.86" y1="678.50" x2="157.86" y2="682.10" stroke="#111" stroke-width="1.3"/>
<line x1="164.15" y1="678.50" x2="164.15" y2="682.10" stroke="#111" stroke-width="1.3"/>
<line x1="170.43" y1="678.50" x2="170.43" y2="682.10" stroke="#111" stroke-width="1.3"/>
<line x1="176.72" y1="678.50" x2="176.72" y2="685.50" stroke="#111" stroke-width="1.3"/>
<text x="176.72" y="699.60" font-size="13" text-anchor="middle" >-1</text>
<line x1="183.01" y1="678.50" x2="183.01" y2="682.10" stroke="#111" stroke-width="1.3"/>
<line x1="189.29" y1="678.50" x2="189.29" y2="682.10" stroke="#111" stroke-width="1.3"/>
<line x1="195.58" y1="678.50" x2="195.58" y2="682.10" stroke="#111" stroke-width="1.3"/>
<line x1="201.86" y1="678.50" x2="201.86" y2="682.10" stroke="#111" stroke-width="1.3"/>
<line x1="208.15" y1="678.50" x2="208.15" y2="685.50" stroke="#111" stroke-width="1.3"/>
<text x="208.15" y="699.60" font-size="13" text-anchor="middle" >0</text>
<line x1="214.44" y1="678.50" x2="214.44" y2="682.10" stroke="#111" stroke-width="1.3"/>
<line x1="220.72" y1="678.50" x2="220.72" y2="682.10" stroke="#111" stroke-width="1.3"/>
<line x1="227.01" y1="678.50" x2="227.01" y2="682.10" stroke="#111" stroke-width="1.3"/>
<line x1="233.29" y1="678.50" x2="233.29" y2="682.10" stroke="#111" stroke-width="1.3"/>
<line x1="239.58" y1="678.50" x2="239.58" y2="685.50" stroke="#111" stroke-width="1.3"/>
<text x="239.58" y="699.60" font-size="13" text-anchor="middle" >1</text>
<line x1="245.87" y1="678.50" x2="245.87" y2="682.10" stroke="#111" stroke-width="1.3"/>
<line x1="252.15" y1="678.50" x2="252.15" y2="682.10" stroke="#111" stroke-width="1.3"/>
<line x1="258.44" y1="678.50" x2="258.44" y2="682.10" stroke="#111" stroke-width="1.3"/>
<line x1="264.72" y1="678.50" x2="264.72" y2="682.10" stroke="#111" stroke-width="1.3"/>
<line x1="271.01" y1="678.50" x2="271.01" y2="685.50" stroke="#111" stroke-width="1.3"/>
<text x="271.01" y="699.60" font-size="13" text-anchor="middle" >2</text>
<line x1="277.30" y1="678.50" x2="277.30" y2="682.10" stroke="#111" stroke-width="1.3"/>
<line x1="283.58" y1="678.50" x2="283.58" y2="682.10" stroke="#111" stroke-width="1.3"/>
<line x1="289.87" y1="678.50" x2="289.87" y2="682.10" stroke="#111" stroke-width="1.3"/>
<line x1="296.15" y1="678.50" x2="296.15" y2="682.10" stroke="#111" stroke-width="1.3"/>
<line x1="302.44" y1="678.50" x2="302.44" y2="685.50" stroke="#111" stroke-width="1.3"/>
<text x="302.44" y="699.60" font-size="13" text-anchor="middle" >3</text>
<line x1="308.73" y1="678.50" x2="308.73" y2="682.10" stroke="#111" stroke-width="1.3"/>
<line x1="315.01" y1="678.50" x2="315.01" y2="682.10" stroke="#111" stroke-width="1.3"/>
<line x1="321.30" y1="678.50" x2="321.30" y2="682.10" stroke="#111" stroke-width="1.3"/>
<line x1="327.58" y1="678.50" x2="327.58" y2="682.10" stroke="#111" stroke-width="1.3"/>
<line x1="333.87" y1="678.50" x2="333.87" y2="685.50" stroke="#111" stroke-width="1.3"/>
<text x="333.87" y="699.60" font-size="13" text-anchor="middle" >4</text>
<line x1="340.16" y1="678.50" x2="340.16" y2="682.10" stroke="#111" stroke-width="1.3"/>
<line x1="346.44" y1="678.50" x2="346.44" y2="682.10" stroke="#111" stroke-width="1.3"/>
<line x1="352.73" y1="678.50" x2="352.73" y2="682.10" stroke="#111" stroke-width="1.3"/>
<line x1="359.01" y1="678.50" x2="359.01" y2="682.10" stroke="#111" stroke-width="1.3"/>
<line x1="365.30" y1="678.50" x2="365.30" y2="685.50" stroke="#111" stroke-width="1.3"/>
<text x="365.30" y="699.60" font-size="13" text-anchor="middle" >5</text>
<line x1="51.00" y1="523.50" x2="365.30" y2="523.50" stroke="#0d0d0d" stroke-width="1.25"/>
<line x1="207.90" y1="364.30" x2="207.90" y2="678.50" stroke="#0d0d0d" stroke-width="1.25"/>
<rect x="423.20" y="429.40" width="251.80" height="251.30" fill="none" stroke="#111" stroke-width="1.2" stroke-linejoin="miter"/>
<line x1="417.70" y1="680.70" x2="423.20" y2="680.70" stroke="#111" stroke-width="1.2"/>
<text x="0" y="0" font-size="9.4" text-anchor="end" transform="translate(415.10,683.90) scale(0.87,1)">-0.8</text>
<line x1="420.20" y1="673.72" x2="423.20" y2="673.72" stroke="#111" stroke-width="1.2"/>
<line x1="420.20" y1="666.74" x2="423.20" y2="666.74" stroke="#111" stroke-width="1.2"/>
<line x1="420.20" y1="659.76" x2="423.20" y2="659.76" stroke="#111" stroke-width="1.2"/>
<line x1="417.70" y1="652.78" x2="423.20" y2="652.78" stroke="#111" stroke-width="1.2"/>
<text x="0" y="0" font-size="9.4" text-anchor="end" transform="translate(415.10,655.97) scale(0.87,1)">-0.6</text>
<line x1="420.20" y1="645.80" x2="423.20" y2="645.80" stroke="#111" stroke-width="1.2"/>
<line x1="420.20" y1="638.82" x2="423.20" y2="638.82" stroke="#111" stroke-width="1.2"/>
<line x1="420.20" y1="631.84" x2="423.20" y2="631.84" stroke="#111" stroke-width="1.2"/>
<line x1="417.70" y1="624.86" x2="423.20" y2="624.86" stroke="#111" stroke-width="1.2"/>
<text x="0" y="0" font-size="9.4" text-anchor="end" transform="translate(415.10,628.05) scale(0.87,1)">-0.4</text>
<line x1="420.20" y1="617.88" x2="423.20" y2="617.88" stroke="#111" stroke-width="1.2"/>
<line x1="420.20" y1="610.89" x2="423.20" y2="610.89" stroke="#111" stroke-width="1.2"/>
<line x1="420.20" y1="603.91" x2="423.20" y2="603.91" stroke="#111" stroke-width="1.2"/>
<line x1="417.70" y1="596.93" x2="423.20" y2="596.93" stroke="#111" stroke-width="1.2"/>
<text x="0" y="0" font-size="9.4" text-anchor="end" transform="translate(415.10,600.13) scale(0.87,1)">-0.2</text>
<line x1="420.20" y1="589.95" x2="423.20" y2="589.95" stroke="#111" stroke-width="1.2"/>
<line x1="420.20" y1="582.97" x2="423.20" y2="582.97" stroke="#111" stroke-width="1.2"/>
<line x1="420.20" y1="575.99" x2="423.20" y2="575.99" stroke="#111" stroke-width="1.2"/>
<line x1="417.70" y1="569.01" x2="423.20" y2="569.01" stroke="#111" stroke-width="1.2"/>
<text x="0" y="0" font-size="9.4" text-anchor="end" transform="translate(415.10,572.21) scale(0.87,1)">0</text>
<line x1="420.20" y1="562.03" x2="423.20" y2="562.03" stroke="#111" stroke-width="1.2"/>
<line x1="420.20" y1="555.05" x2="423.20" y2="555.05" stroke="#111" stroke-width="1.2"/>
<line x1="420.20" y1="548.07" x2="423.20" y2="548.07" stroke="#111" stroke-width="1.2"/>
<line x1="417.70" y1="541.09" x2="423.20" y2="541.09" stroke="#111" stroke-width="1.2"/>
<text x="0" y="0" font-size="9.4" text-anchor="end" transform="translate(415.10,544.28) scale(0.87,1)">0.2</text>
<line x1="420.20" y1="534.11" x2="423.20" y2="534.11" stroke="#111" stroke-width="1.2"/>
<line x1="420.20" y1="527.13" x2="423.20" y2="527.13" stroke="#111" stroke-width="1.2"/>
<line x1="420.20" y1="520.15" x2="423.20" y2="520.15" stroke="#111" stroke-width="1.2"/>
<line x1="417.70" y1="513.17" x2="423.20" y2="513.17" stroke="#111" stroke-width="1.2"/>
<text x="0" y="0" font-size="9.4" text-anchor="end" transform="translate(415.10,516.36) scale(0.87,1)">0.4</text>
<line x1="420.20" y1="506.19" x2="423.20" y2="506.19" stroke="#111" stroke-width="1.2"/>
<line x1="420.20" y1="499.21" x2="423.20" y2="499.21" stroke="#111" stroke-width="1.2"/>
<line x1="420.20" y1="492.23" x2="423.20" y2="492.23" stroke="#111" stroke-width="1.2"/>
<line x1="417.70" y1="485.24" x2="423.20" y2="485.24" stroke="#111" stroke-width="1.2"/>
<text x="0" y="0" font-size="9.4" text-anchor="end" transform="translate(415.10,488.44) scale(0.87,1)">0.6</text>
<line x1="420.20" y1="478.26" x2="423.20" y2="478.26" stroke="#111" stroke-width="1.2"/>
<line x1="420.20" y1="471.28" x2="423.20" y2="471.28" stroke="#111" stroke-width="1.2"/>
<line x1="420.20" y1="464.30" x2="423.20" y2="464.30" stroke="#111" stroke-width="1.2"/>
<line x1="417.70" y1="457.32" x2="423.20" y2="457.32" stroke="#111" stroke-width="1.2"/>
<text x="0" y="0" font-size="9.4" text-anchor="end" transform="translate(415.10,460.52) scale(0.87,1)">0.8</text>
<line x1="420.20" y1="450.34" x2="423.20" y2="450.34" stroke="#111" stroke-width="1.2"/>
<line x1="420.20" y1="443.36" x2="423.20" y2="443.36" stroke="#111" stroke-width="1.2"/>
<line x1="420.20" y1="436.38" x2="423.20" y2="436.38" stroke="#111" stroke-width="1.2"/>
<line x1="417.70" y1="429.40" x2="423.20" y2="429.40" stroke="#111" stroke-width="1.2"/>
<text x="0" y="0" font-size="9.4" text-anchor="end" transform="translate(415.10,432.60) scale(0.87,1)">1</text>
<line x1="423.20" y1="680.70" x2="423.20" y2="686.20" stroke="#111" stroke-width="1.2"/>
<text x="0" y="0" font-size="9.4" text-anchor="middle" transform="translate(422.70,695.90) scale(0.87,1)">-1</text>
<line x1="429.50" y1="680.70" x2="429.50" y2="683.70" stroke="#111" stroke-width="1.2"/>
<line x1="435.79" y1="680.70" x2="435.79" y2="683.70" stroke="#111" stroke-width="1.2"/>
<line x1="442.08" y1="680.70" x2="442.08" y2="683.70" stroke="#111" stroke-width="1.2"/>
<line x1="448.38" y1="680.70" x2="448.38" y2="686.20" stroke="#111" stroke-width="1.2"/>
<text x="0" y="0" font-size="9.4" text-anchor="middle" transform="translate(447.88,695.90) scale(0.87,1)">-0.8</text>
<line x1="454.68" y1="680.70" x2="454.68" y2="683.70" stroke="#111" stroke-width="1.2"/>
<line x1="460.97" y1="680.70" x2="460.97" y2="683.70" stroke="#111" stroke-width="1.2"/>
<line x1="467.26" y1="680.70" x2="467.26" y2="683.70" stroke="#111" stroke-width="1.2"/>
<line x1="473.56" y1="680.70" x2="473.56" y2="686.20" stroke="#111" stroke-width="1.2"/>
<text x="0" y="0" font-size="9.4" text-anchor="middle" transform="translate(473.06,695.90) scale(0.87,1)">-0.6</text>
<line x1="479.85" y1="680.70" x2="479.85" y2="683.70" stroke="#111" stroke-width="1.2"/>
<line x1="486.15" y1="680.70" x2="486.15" y2="683.70" stroke="#111" stroke-width="1.2"/>
<line x1="492.44" y1="680.70" x2="492.44" y2="683.70" stroke="#111" stroke-width="1.2"/>
<line x1="498.74" y1="680.70" x2="498.74" y2="686.20" stroke="#111" stroke-width="1.2"/>
<text x="0" y="0" font-size="9.4" text-anchor="middle" transform="translate(498.24,695.90) scale(0.87,1)">-0.4</text>
<line x1="505.03" y1="680.70" x2="505.03" y2="683.70" stroke="#111" stroke-width="1.2"/>
<line x1="511.33" y1="680.70" x2="511.33" y2="683.70" stroke="#111" stroke-width="1.2"/>
<line x1="517.62" y1="680.70" x2="517.62" y2="683.70" stroke="#111" stroke-width="1.2"/>
<line x1="523.92" y1="680.70" x2="523.92" y2="686.20" stroke="#111" stroke-width="1.2"/>
<text x="0" y="0" font-size="9.4" text-anchor="middle" transform="translate(523.42,695.90) scale(0.87,1)">-0.2</text>
<line x1="530.22" y1="680.70" x2="530.22" y2="683.70" stroke="#111" stroke-width="1.2"/>
<line x1="536.51" y1="680.70" x2="536.51" y2="683.70" stroke="#111" stroke-width="1.2"/>
<line x1="542.81" y1="680.70" x2="542.81" y2="683.70" stroke="#111" stroke-width="1.2"/>
<line x1="549.10" y1="680.70" x2="549.10" y2="686.20" stroke="#111" stroke-width="1.2"/>
<text x="0" y="0" font-size="9.4" text-anchor="middle" transform="translate(548.60,695.90) scale(0.87,1)">0</text>
<line x1="555.39" y1="680.70" x2="555.39" y2="683.70" stroke="#111" stroke-width="1.2"/>
<line x1="561.69" y1="680.70" x2="561.69" y2="683.70" stroke="#111" stroke-width="1.2"/>
<line x1="567.99" y1="680.70" x2="567.99" y2="683.70" stroke="#111" stroke-width="1.2"/>
<line x1="574.28" y1="680.70" x2="574.28" y2="686.20" stroke="#111" stroke-width="1.2"/>
<text x="0" y="0" font-size="9.4" text-anchor="middle" transform="translate(573.78,695.90) scale(0.87,1)">0.2</text>
<line x1="580.58" y1="680.70" x2="580.58" y2="683.70" stroke="#111" stroke-width="1.2"/>
<line x1="586.87" y1="680.70" x2="586.87" y2="683.70" stroke="#111" stroke-width="1.2"/>
<line x1="593.16" y1="680.70" x2="593.16" y2="683.70" stroke="#111" stroke-width="1.2"/>
<line x1="599.46" y1="680.70" x2="599.46" y2="686.20" stroke="#111" stroke-width="1.2"/>
<text x="0" y="0" font-size="9.4" text-anchor="middle" transform="translate(598.96,695.90) scale(0.87,1)">0.4</text>
<line x1="605.75" y1="680.70" x2="605.75" y2="683.70" stroke="#111" stroke-width="1.2"/>
<line x1="612.05" y1="680.70" x2="612.05" y2="683.70" stroke="#111" stroke-width="1.2"/>
<line x1="618.35" y1="680.70" x2="618.35" y2="683.70" stroke="#111" stroke-width="1.2"/>
<line x1="624.64" y1="680.70" x2="624.64" y2="686.20" stroke="#111" stroke-width="1.2"/>
<text x="0" y="0" font-size="9.4" text-anchor="middle" transform="translate(624.14,695.90) scale(0.87,1)">0.6</text>
<line x1="630.93" y1="680.70" x2="630.93" y2="683.70" stroke="#111" stroke-width="1.2"/>
<line x1="637.23" y1="680.70" x2="637.23" y2="683.70" stroke="#111" stroke-width="1.2"/>
<line x1="643.52" y1="680.70" x2="643.52" y2="683.70" stroke="#111" stroke-width="1.2"/>
<line x1="649.82" y1="680.70" x2="649.82" y2="686.20" stroke="#111" stroke-width="1.2"/>
<text x="0" y="0" font-size="9.4" text-anchor="middle" transform="translate(649.32,695.90) scale(0.87,1)">0.8</text>
<line x1="656.12" y1="680.70" x2="656.12" y2="683.70" stroke="#111" stroke-width="1.2"/>
<line x1="662.41" y1="680.70" x2="662.41" y2="683.70" stroke="#111" stroke-width="1.2"/>
<line x1="668.71" y1="680.70" x2="668.71" y2="683.70" stroke="#111" stroke-width="1.2"/>
<line x1="675.00" y1="680.70" x2="675.00" y2="686.20" stroke="#111" stroke-width="1.2"/>
<text x="0" y="0" font-size="9.4" text-anchor="middle" transform="translate(674.50,695.90) scale(0.87,1)">1</text>
<line x1="423.20" y1="568.60" x2="675.00" y2="568.60" stroke="#0d0d0d" stroke-width="1.25"/>
<line x1="549.20" y1="429.40" x2="549.20" y2="680.70" stroke="#0d0d0d" stroke-width="1.25"/>
<ellipse cx="197.05" cy="85.44" rx="76.85" ry="51.98" transform="rotate(-65.89 197.05 85.44)" fill="none" stroke="#111" stroke-width="1.3"/>
<ellipse cx="203.28" cy="167.64" rx="41.61" ry="24.84" transform="rotate(88.81 203.28 167.64)" fill="none" stroke="#111" stroke-width="1.3"/>
<ellipse cx="281.94" cy="180.59" rx="63.34" ry="55.68" transform="rotate(86.59 281.94 180.59)" fill="none" stroke="#111" stroke-width="1.3"/>
<ellipse cx="306.04" cy="187.48" rx="23.55" ry="14.81" transform="rotate(26.86 306.04 187.48)" fill="none" stroke="#111" stroke-width="1.3"/>
<ellipse cx="122.22" cy="184.23" rx="60.12" ry="30.21" transform="rotate(18.19 122.22 184.23)" fill="none" stroke="#111" stroke-width="1.3"/>
<text x="173.60" y="69.80" font-size="14.5" text-anchor="start" >Group C</text>
<text x="173.60" y="171.30" font-size="14.5" text-anchor="start" >Group A</text>
<text x="251.50" y="162.20" font-size="14.5" text-anchor="start" >Group D</text>
<text x="87.50" y="182.60" font-size="14.5" text-anchor="start" >Group E</text>
<text x="273.00" y="214.40" font-size="14.5" text-anchor="start" >Group B</text>
<text x="256.90" y="97.00" font-size="12.2" text-anchor="start" >No.3706</text>
<text x="252.60" y="115.10" font-size="12.2" text-anchor="start" >No.318</text>
<text x="124.40" y="250.40" font-size="12.2" text-anchor="start" >No.466</text>
<line x1="255.80" y1="92.70" x2="216.31" y2="120.61" stroke="#111" stroke-width="1.15"/>
<polygon points="210.10,125.00 215.05,115.38 216.31,120.61 220.83,123.54" fill="#231f20"/>
<line x1="250.50" y1="115.60" x2="211.32" y2="143.13" stroke="#111" stroke-width="1.15"/>
<polygon points="205.10,147.50 210.08,137.89 211.32,143.13 215.83,146.07" fill="#231f20"/>
<line x1="144.90" y1="240.20" x2="152.35" y2="191.51" stroke="#111" stroke-width="1.15"/>
<polygon points="153.50,184.00 156.99,194.25 152.35,191.51 147.11,192.73" fill="#231f20"/>
<ellipse cx="123.71" cy="503.25" rx="60.18" ry="36.9" transform="rotate(-2.99 123.71 503.25)" fill="none" stroke="#111" stroke-width="1.3"/>
<ellipse cx="204.75" cy="510.65" rx="85.88" ry="17.39" transform="rotate(-55.33 204.75 510.65)" fill="none" stroke="#111" stroke-width="1.3"/>
<ellipse cx="284.57" cy="520.8" rx="63.6" ry="36.2" transform="rotate(-28.9 284.57 520.8)" fill="none" stroke="#111" stroke-width="1.3"/>
<ellipse cx="306.0" cy="504.85" rx="20.2" ry="10.2" transform="rotate(0 306.0 504.85)" fill="none" stroke="#111" stroke-width="1.3"/>
<ellipse cx="208.24" cy="596.45" rx="54.31" ry="27.71" transform="rotate(89.22 208.24 596.45)" fill="none" stroke="#111" stroke-width="1.3"/>
<text x="99.40" y="503.20" font-size="14.5" text-anchor="start" >Group E</text>
<text x="195.40" y="487.10" font-size="14.5" text-anchor="start" >Group C</text>
<text x="282.80" y="493.30" font-size="14.5" text-anchor="start" >Group B</text>
<text x="241.20" y="538.20" font-size="14.5" text-anchor="start" >Group D</text>
<text x="183.20" y="607.30" font-size="14.5" text-anchor="start" >Group A</text>
<text x="153.40" y="445.00" font-size="12.2" text-anchor="start" >No.318</text>
<text x="109.30" y="587.90" font-size="12.2" text-anchor="start" >No.466</text>
<text x="258.80" y="590.30" font-size="12.2" text-anchor="start" >No.3706</text>
<line x1="172.50" y1="447.50" x2="192.32" y2="490.60" stroke="#111" stroke-width="1.15"/>
<polygon points="195.50,497.50 186.95,490.87 192.32,490.60 196.03,486.69" fill="#231f20"/>
<line x1="132.70" y1="576.20" x2="149.11" y2="530.94" stroke="#111" stroke-width="1.15"/>
<polygon points="151.70,523.80 153.13,534.53 149.11,530.94 143.73,531.12" fill="#231f20"/>
<line x1="256.90" y1="582.60" x2="217.77" y2="554.44" stroke="#111" stroke-width="1.15"/>
<polygon points="211.60,550.00 222.31,551.55 217.77,554.44 216.47,559.67" fill="#231f20"/>
<text x="548.40" y="92.10" font-size="15" text-anchor="start" >Zr</text>
<text x="508.20" y="113.90" font-size="15" text-anchor="start" >Zn</text>
<text x="456.50" y="180.90" font-size="15" text-anchor="start" >Sr</text>
<text x="464.70" y="203.60" font-size="15" text-anchor="start" >Y</text>
<text x="452.70" y="236.60" font-size="15" text-anchor="start" >As</text>
<text x="550.40" y="236.20" font-size="15" text-anchor="start" >Cu</text>
<text x="612.20" y="163.00" font-size="15" text-anchor="start" >Cr</text>
<text x="642.10" y="163.00" font-size="15" text-anchor="start" >Ti</text>
<text x="654.00" y="186.10" font-size="15" text-anchor="start" >V</text>
<text x="652.80" y="221.70" font-size="15" text-anchor="start" >Fe</text>
<text x="642.10" y="243.00" font-size="15" text-anchor="start" >M.S.</text>
<text x="623.80" y="270.60" font-size="15" text-anchor="start" >Co</text>
<text x="453.70" y="496.60" font-size="15" text-anchor="start" >Sr</text>
<text x="452.60" y="525.30" font-size="15" text-anchor="start" >As</text>
<text x="465.30" y="552.40" font-size="15" text-anchor="start" >Y</text>
<text x="503.40" y="600.10" font-size="15" text-anchor="start" >Zn</text>
<text x="550.50" y="612.50" font-size="15" text-anchor="start" >Zr</text>
<text x="549.30" y="662.90" font-size="15" text-anchor="start" >Cu</text>
<text x="611.10" y="487.80" font-size="15" text-anchor="start" >Cr</text>
<text x="622.50" y="520.20" font-size="15" text-anchor="start" >Co</text>
<text x="637.00" y="559.00" font-size="15" text-anchor="start" >Fe</text>
<text x="662.50" y="559.50" font-size="15" text-anchor="start" >V</text>
<text x="635.30" y="582.50" font-size="15" text-anchor="start" >TiM.S.</text>
<text x="97.60" y="352.70" font-size="17" text-anchor="start" >Principal component 1 (41.76%)</text>
<text x="435.00" y="350.90" font-size="17" text-anchor="start" >Principal component 1 (41.76%)</text>
<text x="95.20" y="714.20" font-size="17" text-anchor="start" >Principal component 1 (41.76%)</text>
<text x="438.50" y="716.60" font-size="17" text-anchor="start" >Principal component 1 (41.76%)</text>
<text x="0" y="0" font-size="17" text-anchor="middle" transform="translate(19.30,163.45) rotate(-90)">Principal component 2 (17.61%)</text>
<text x="0" y="0" font-size="17" text-anchor="middle" transform="translate(394.00,189.65) rotate(-90)">Principal component 2 (17.61%)</text>
<text x="0" y="0" font-size="17" text-anchor="middle" transform="translate(15.70,518.95) rotate(-90)">Principal component 3 (12.56%)</text>
<text x="0" y="0" font-size="17" text-anchor="middle" transform="translate(399.30,554.30) rotate(-90)">Principal component 3 (12.56%)</text>
</svg></body></html>
